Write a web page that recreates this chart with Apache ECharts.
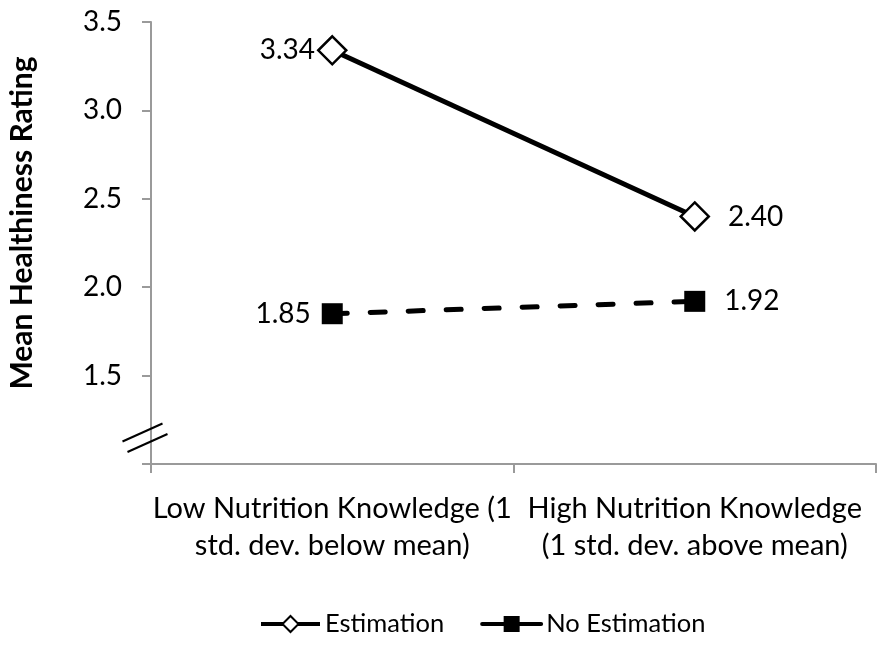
<!DOCTYPE html>
<html>
<head>
<meta charset="utf-8">
<script src="https://cdn.jsdelivr.net/npm/echarts@6/dist/echarts.min.js"></script>
<style>
  html, body { margin: 0; padding: 0; background: #fff; }
  #chart { width: 877px; height: 653px; }
</style>
</head>
<body>
<div id="chart"></div>
<script>
// Knowledge groups on the x axis
const categories = [
  'Low Nutrition Knowledge (1\nstd. dev. below mean)',
  'High Nutrition Knowledge\n(1 std. dev. above mean)'
];
// Mean healthiness ratings per condition
const estimation = [3.34, 2.40];
const noEstimation = [1.85, 1.92];
// Y-axis scale
const yTicks = [1.0, 1.5, 2.0, 2.5, 3.0, 3.5];

const FONT = 'Lato';
const AXIS_GREY = '#9a9a9a';

const chart = echarts.init(document.getElementById('chart'), null, { renderer: 'canvas' });

// first point labelled on its left, second on its right
function withLabels(values, leftGap, rightGap) {
  return values.map((v, i) => ({
    value: v,
    label: {
      position: i === 0 ? 'left' : 'right',
      distance: i === 0 ? leftGap : rightGap
    }
  }));
}

const labelStyle = {
  show: true,
  fontFamily: FONT,
  fontSize: 28,
  color: '#000',
  formatter: p => p.value.toFixed(2)
};

const option = {
  backgroundColor: '#fff',
  animation: false,
  textStyle: { fontFamily: FONT, color: '#000' },
  grid: {
    left: 151, right: 1, top: 22, bottom: 189,
    containLabel: false,
    outerBoundsMode: 'none'
  },
  legend: {
    top: 606,
    left: 254,
    itemWidth: 59,
    itemHeight: 20,
    itemGap: 36,
    textStyle: { fontFamily: FONT, fontSize: 25.5, color: '#000' },
    data: [
      { name: 'Estimation', lineStyle: { width: 4, type: 'solid' } },
      { name: 'No Estimation', lineStyle: { width: 4, type: 'solid' } }
    ]
  },
  xAxis: {
    type: 'category',
    data: categories,
    boundaryGap: true,
    axisLine: { lineStyle: { color: AXIS_GREY, width: 2 } },
    axisTick: { show: true, length: 9, lineStyle: { color: AXIS_GREY, width: 2 } },
    axisLabel: {
      interval: 0,
      hideOverlap: false,
      margin: 26,
      fontFamily: FONT,
      fontSize: 29,
      lineHeight: 37,
      color: '#000',
      align: 'center'
    }
  },
  yAxis: {
    type: 'value',
    min: yTicks[0],
    max: yTicks[yTicks.length - 1],
    interval: 0.5,
    name: 'Mean Healthiness Rating',
    nameLocation: 'middle',
    nameRotate: 90,
    nameGap: 114,
    nameTextStyle: {
      fontFamily: FONT, fontSize: 30, fontWeight: 'bold', color: '#000',
      padding: [0, 0, 0, 40]
    },
    splitLine: { show: false },
    axisLine: { show: true, lineStyle: { color: AXIS_GREY, width: 2 } },
    axisTick: { show: true, length: 9, lineStyle: { color: AXIS_GREY, width: 2 } },
    axisLabel: {
      margin: 29,
      fontFamily: FONT,
      fontSize: 28,
      color: '#000',
      formatter: v => (v === yTicks[0] ? '' : v.toFixed(1))
    }
  },
  series: [
    {
      name: 'Estimation',
      type: 'line',
      data: withLabels(estimation, 2, 18),
      symbol: 'diamond',
      symbolSize: 28,
      z: 3,
      lineStyle: { color: '#000', width: 5, type: 'solid' },
      itemStyle: { color: '#fff', borderColor: '#000', borderWidth: 2.5 },
      label: labelStyle
    },
    {
      name: 'No Estimation',
      type: 'line',
      data: withLabels(noEstimation, 11, 19),
      symbol: 'rect',
      symbolSize: 21,
      z: 3,
      lineStyle: { color: '#000', width: 5, type: [15, 23], cap: 'round' },
      itemStyle: { color: '#000', borderColor: '#000', borderWidth: 0 },
      label: labelStyle
    }
  ]
};

chart.setOption(option);

// axis-break marks drawn across the y axis near its base
const breakValue = 1.15;
const baseX = chart.getModel().getComponent('grid', 0).coordinateSystem.getRect().x;
const cy = chart.convertToPixel({ yAxisIndex: 0 }, breakValue);
function breakLine(dx, dy) {
  const cx = baseX + dx, yy = cy + dy;
  return {
    type: 'line',
    shape: { x1: cx - 20, y1: yy + 9, x2: cx + 20, y2: yy - 9 },
    style: { stroke: '#000', lineWidth: 2 },
    z: 10
  };
}
chart.setOption({
  graphic: [breakLine(-8.5, -5), breakLine(-3.5, 5.5)]
});
</script>
</body>
</html>
